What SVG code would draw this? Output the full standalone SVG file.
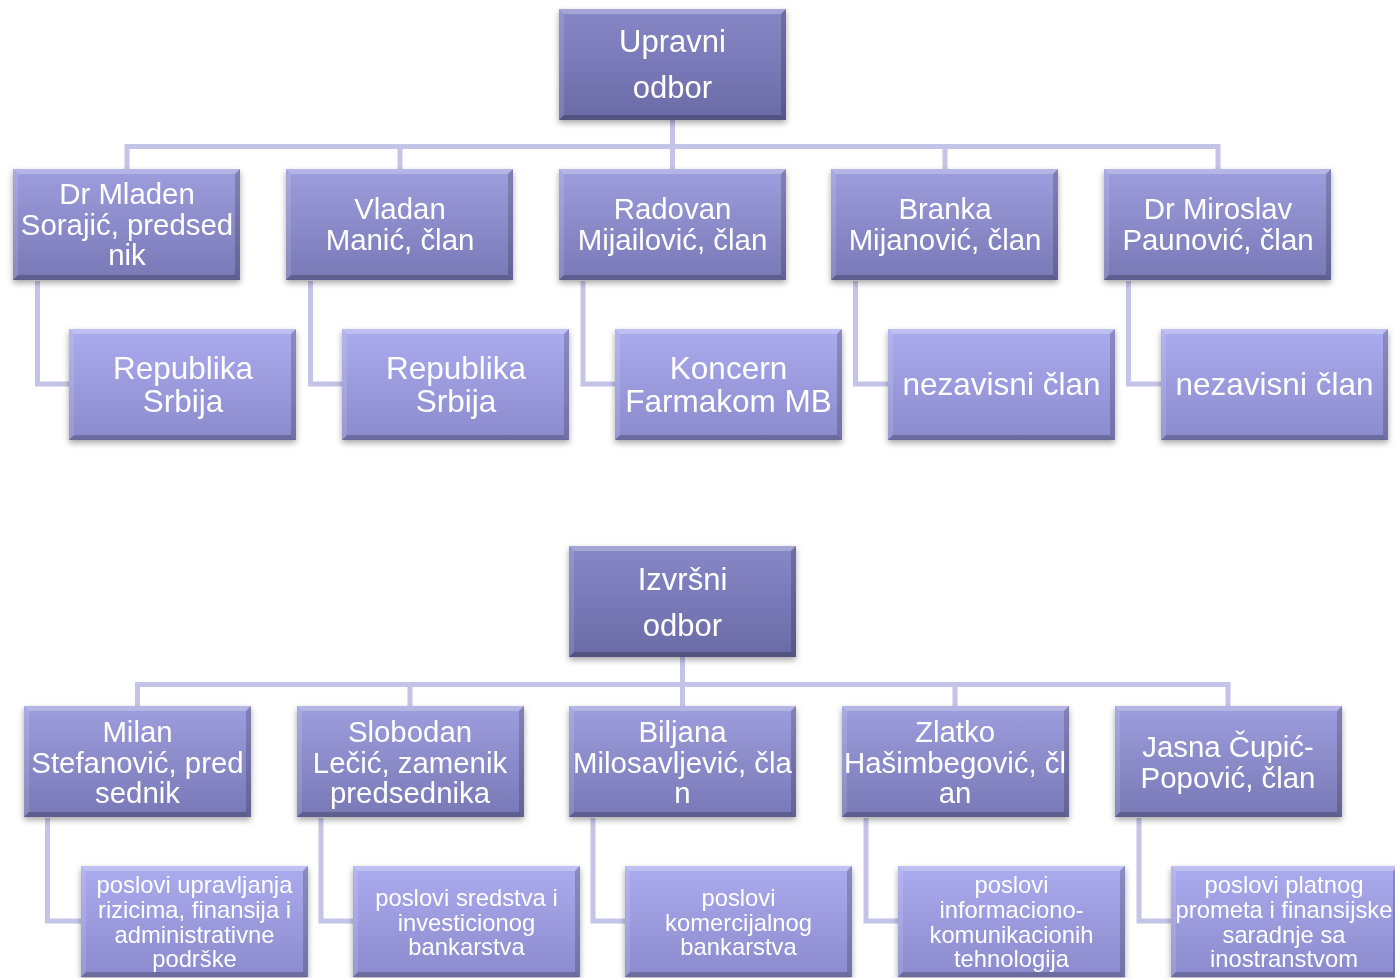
<svg xmlns="http://www.w3.org/2000/svg" width="1395" height="978" viewBox="0 0 1395 978">
<style>
.c{fill:none;stroke:#c4c4e8;stroke-width:5}
text{font-family:"Liberation Sans",Arial,sans-serif;fill:#ffffff;text-anchor:middle}
.t1{font-size:31px}
.t2{font-size:29.4px}
.t3{font-size:31.5px}
.t4{font-size:23.8px}
.b0{fill:url(#g0)}
.b1{fill:url(#g1)}
.b2{fill:url(#g2)}
.box{filter:url(#sh)}
</style>
<defs>
<linearGradient id="g0" x1="0" y1="0" x2="0" y2="1"><stop offset="0" stop-color="#8888c8"/><stop offset="1" stop-color="#6a6aa6"/></linearGradient>
<linearGradient id="g1" x1="0" y1="0" x2="0" y2="1"><stop offset="0" stop-color="#9e9ede"/><stop offset="1" stop-color="#7878b6"/></linearGradient>
<linearGradient id="g2" x1="0" y1="0" x2="0" y2="1"><stop offset="0" stop-color="#ababef"/><stop offset="1" stop-color="#8a8acc"/></linearGradient>
<filter id="sh" x="-10%" y="-10%" width="120%" height="130%"><feDropShadow dx="0" dy="3" stdDeviation="3" flood-color="#000" flood-opacity="0.35"/></filter>
<g id="bev">
<polygon points="0,0 227,0 222,5 5,5" fill="#fff" fill-opacity="0.25"/>
<polygon points="0,0 5,5 5,106 0,111" fill="#fff" fill-opacity="0.12"/>
<polygon points="0,111 5,106 222,106 227,111" fill="#000" fill-opacity="0.22"/>
<polygon points="227,0 227,111 222,106 222,5" fill="#000" fill-opacity="0.18"/>
</g>
</defs>
<g id="connectors">
<path class="c" d="M672.5,120 V169 M127,169 V146.5 H1218 V169 M400,146.5 V169 M945,146.5 V169"/>
<path class="c" d="M37.5,281 V384 H69 M310.5,281 V384 H342 M583,281 V384 H615 M855.5,281 V384 H888 M1128.5,281 V384 H1161"/>
<path class="c" d="M682.5,657 V706 M137.5,706 V684.5 H1228 V706 M410,684.5 V706 M955,684.5 V706"/>
<path class="c" d="M47.5,818 V921 H81 M321,818 V921 H353 M593,818 V921 H625 M866,818 V921 H898 M1139,818 V921 H1171"/>
</g>
<g id="n-upravni" class="box"><rect class="b0" x="559" y="9" width="227" height="111"/><use href="#bev" x="559" y="9"/><text class="t1" x="672.5" y="52">Upravni</text><text class="t1" x="672.5" y="98">odbor</text></g>
<g id="n-mladen" class="box"><rect class="b1" x="13" y="169" width="227" height="111"/><use href="#bev" x="13" y="169"/><text class="t2" x="127" y="204">Dr Mladen</text><text class="t2" x="127" y="235">Sorajić, predsed</text><text class="t2" x="127" y="265">nik</text></g>
<g id="n-vladan" class="box"><rect class="b1" x="286" y="169" width="227" height="111"/><use href="#bev" x="286" y="169"/><text class="t2" x="400" y="219">Vladan</text><text class="t2" x="400" y="250">Manić, član</text></g>
<g id="n-radovan" class="box"><rect class="b1" x="559" y="169" width="227" height="111"/><use href="#bev" x="559" y="169"/><text class="t2" x="672.5" y="219">Radovan</text><text class="t2" x="672.5" y="250">Mijailović, član</text></g>
<g id="n-branka" class="box"><rect class="b1" x="831" y="169" width="227" height="111"/><use href="#bev" x="831" y="169"/><text class="t2" x="945" y="219">Branka</text><text class="t2" x="945" y="250">Mijanović, član</text></g>
<g id="n-miroslav" class="box"><rect class="b1" x="1104" y="169" width="227" height="111"/><use href="#bev" x="1104" y="169"/><text class="t2" x="1218" y="219">Dr Miroslav</text><text class="t2" x="1218" y="250">Paunović, član</text></g>
<g id="n-rs1" class="box"><rect class="b2" x="69" y="329" width="227" height="111"/><use href="#bev" x="69" y="329"/><text class="t3" x="183" y="379">Republika</text><text class="t3" x="183" y="412">Srbija</text></g>
<g id="n-rs2" class="box"><rect class="b2" x="342" y="329" width="227" height="111"/><use href="#bev" x="342" y="329"/><text class="t3" x="456" y="379">Republika</text><text class="t3" x="456" y="412">Srbija</text></g>
<g id="n-koncern" class="box"><rect class="b2" x="615" y="329" width="227" height="111"/><use href="#bev" x="615" y="329"/><text class="t3" x="728.5" y="379">Koncern</text><text class="t3" x="728.5" y="412">Farmakom MB</text></g>
<g id="n-nez1" class="box"><rect class="b2" x="888" y="329" width="227" height="111"/><use href="#bev" x="888" y="329"/><text class="t3" x="1001.5" y="395">nezavisni član</text></g>
<g id="n-nez2" class="box"><rect class="b2" x="1161" y="329" width="227" height="111"/><use href="#bev" x="1161" y="329"/><text class="t3" x="1274.5" y="395">nezavisni član</text></g>
<g id="n-izvrsni" class="box"><rect class="b0" x="569" y="546" width="227" height="111"/><use href="#bev" x="569" y="546"/><text class="t1" x="682.5" y="590">Izvršni</text><text class="t1" x="682.5" y="636">odbor</text></g>
<g id="n-milan" class="box"><rect class="b1" x="24" y="706" width="227" height="111"/><use href="#bev" x="24" y="706"/><text class="t2" x="137.5" y="742">Milan</text><text class="t2" x="137.5" y="773">Stefanović, pred</text><text class="t2" x="137.5" y="803">sednik</text></g>
<g id="n-slobodan" class="box"><rect class="b1" x="297" y="706" width="227" height="111"/><use href="#bev" x="297" y="706"/><text class="t2" x="410" y="742">Slobodan</text><text class="t2" x="410" y="773">Lečić, zamenik</text><text class="t2" x="410" y="803">predsednika</text></g>
<g id="n-biljana" class="box"><rect class="b1" x="569" y="706" width="227" height="111"/><use href="#bev" x="569" y="706"/><text class="t2" x="682.5" y="742">Biljana</text><text class="t2" x="682.5" y="773">Milosavljević, čla</text><text class="t2" x="682.5" y="803">n</text></g>
<g id="n-zlatko" class="box"><rect class="b1" x="842" y="706" width="227" height="111"/><use href="#bev" x="842" y="706"/><text class="t2" x="955" y="742">Zlatko</text><text class="t2" x="955" y="773">Hašimbegović, čl</text><text class="t2" x="955" y="803">an</text></g>
<g id="n-jasna" class="box"><rect class="b1" x="1115" y="706" width="227" height="111"/><use href="#bev" x="1115" y="706"/><text class="t2" x="1228" y="757">Jasna Čupić-</text><text class="t2" x="1228" y="788">Popović, član</text></g>
<g id="n-p1" class="box"><rect class="b2" x="81" y="866" width="227" height="111"/><use href="#bev" x="81" y="866"/><text class="t4" x="194.5" y="893">poslovi upravljanja</text><text class="t4" x="194.5" y="918">rizicima, finansija i</text><text class="t4" x="194.5" y="943">administrativne</text><text class="t4" x="194.5" y="967">podrške</text></g>
<g id="n-p2" class="box"><rect class="b2" x="353" y="866" width="227" height="111"/><use href="#bev" x="353" y="866"/><text class="t4" x="466.5" y="906">poslovi sredstva i</text><text class="t4" x="466.5" y="931">investicionog</text><text class="t4" x="466.5" y="955">bankarstva</text></g>
<g id="n-p3" class="box"><rect class="b2" x="625" y="866" width="227" height="111"/><use href="#bev" x="625" y="866"/><text class="t4" x="738.5" y="906">poslovi</text><text class="t4" x="738.5" y="931">komercijalnog</text><text class="t4" x="738.5" y="955">bankarstva</text></g>
<g id="n-p4" class="box"><rect class="b2" x="898" y="866" width="227" height="111"/><use href="#bev" x="898" y="866"/><text class="t4" x="1011.5" y="893">poslovi</text><text class="t4" x="1011.5" y="918">informaciono-</text><text class="t4" x="1011.5" y="943">komunikacionih</text><text class="t4" x="1011.5" y="967">tehnologija</text></g>
<g id="n-p5" class="box"><rect class="b2" x="1171" y="866" width="227" height="111"/><use href="#bev" x="1171" y="866"/><text class="t4" x="1284" y="893">poslovi platnog</text><text class="t4" x="1284" y="918">prometa i finansijske</text><text class="t4" x="1284" y="943">saradnje sa</text><text class="t4" x="1284" y="967">inostranstvom</text></g>
</svg>
